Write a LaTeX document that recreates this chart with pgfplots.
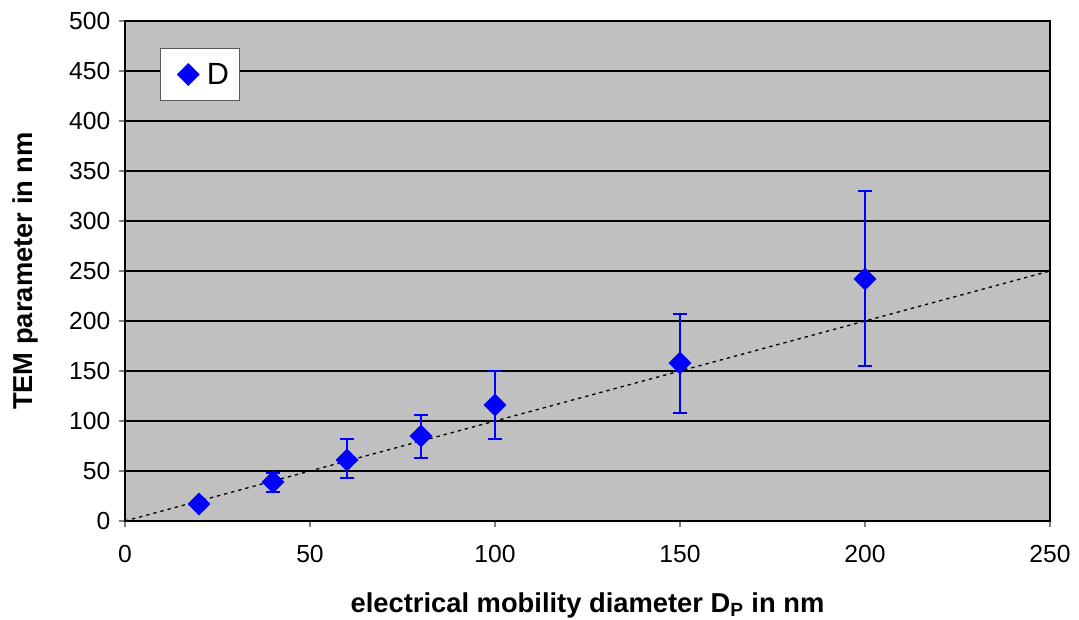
\documentclass[border=0pt]{standalone}
\usepackage{pgfplots}
\pgfplotsset{compat=1.18}
\usepackage{fontspec}
\setmainfont{Liberation Sans}
\definecolor{plotgray}{RGB}{192,192,192}
\definecolor{mblue}{RGB}{0,0,255}
\begin{document}
\begin{tikzpicture}
\begin{axis}[
  scale only axis, width=693.75pt, height=375pt,
  xmin=0, xmax=250, ymin=0, ymax=500,
  xtick={0,50,...,250}, ytick={0,50,...,500},
  axis background/.style={fill=plotgray},
  ymajorgrids, major grid style={black, line width=0.9pt},
  axis line style={black, line width=1.3pt},
  tick align=outside, xtick pos=left, ytick pos=left,
  major tick length=4.5pt, tick style={gray, line width=1pt},
  /pgf/number format/assume math mode=true,
  ticklabel style={font=\fontsize{18.5}{20}\selectfont},
  xticklabel style={yshift=-10pt},
  yticklabel style={xshift=-3pt},
  xlabel={\textbf{electrical mobility diameter D\textsubscript{P} in nm}},
  ylabel={\textbf{TEM parameter in nm}},
  label style={font=\fontsize{20.5}{22}\selectfont},
  xlabel style={at={(axis description cs:0.5,0)}, anchor=center, yshift=-63pt},
  ylabel style={at={(axis description cs:0,0.5)}, anchor=center, yshift=75pt},
  legend style={at={(0.0378,0.946)}, anchor=north west, draw=gray!70!black, fill=white,
    font=\fontsize{23}{24}\selectfont, inner xsep=12.75pt, inner ysep=9pt},
  legend cell align=left,
]
\addplot[black, line width=1pt, dash pattern=on 2.5pt off 3pt, forget plot] coordinates {(0,0) (250,250)};
\addplot[mblue, only marks, mark=square*, mark options={rotate=45, mark size=5.85pt, solid, fill=mblue},
  error bars/.cd, y dir=both, y explicit,
  error bar style={line width=1.5pt, mblue},
  error mark options={rotate=90, mblue, line width=1.5pt, mark size=5.5pt}]
coordinates {
(20,17) += (0,4) -= (0,4)
(40,39) += (0,9) -= (0,10)
(60,61) += (0,21) -= (0,18)
(80,85) += (0,21) -= (0,22)
(100,116) += (0,34) -= (0,34)
(150,158) += (0,49) -= (0,50)
(200,242) += (0,88) -= (0,87)
};
\addlegendentry{\hspace{3.75pt}\makebox[9.85pt][l]{D}}
\end{axis}
\pgfresetboundingbox
\useasboundingbox ([shift={(-93.75pt,-73.5pt)}]current axis.south west) rectangle ([shift={(21.75pt,15.75pt)}]current axis.north east);
\end{tikzpicture}
\end{document}
